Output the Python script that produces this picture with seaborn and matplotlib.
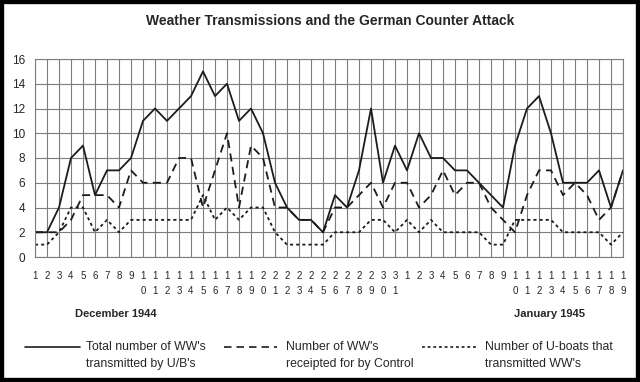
import numpy as np
import pandas as pd
import seaborn as sns
import matplotlib.pyplot as plt
from matplotlib.lines import Line2D
from matplotlib.patches import Rectangle

# Days: December 1944 then January 1945
dec_days = list(range(1, 32))
jan_days = list(range(1, 20))
days = dec_days + jan_days

# Values
total_ww = [2, 2, 4, 8, 9, 5, 7, 7, 8, 11, 12, 11, 12, 13, 15, 13, 14, 11, 12, 10,
            6, 4, 3, 3, 2, 5, 4, 7, 12, 6, 9,
            7, 10, 8, 8, 7, 7, 6, 5, 4, 9, 12, 13, 10, 6, 6, 6, 7, 4, 7]
receipted = [2, 2, 2, 3, 5, 5, 5, 4, 7, 6, 6, 6, 8, 8, 4, 7, 10, 4, 9, 8,
             4, 4, 3, 3, 2, 4, 4, 5, 6, 4, 6,
             6, 4, 5, 7, 5, 6, 6, 4, 3, 2, 5, 7, 7, 5, 6, 5, 3, 4, 7]
uboats = [1, 1, 2, 4, 4, 2, 3, 2, 3, 3, 3, 3, 3, 3, 5, 3, 4, 3, 4, 4,
          2, 1, 1, 1, 1, 2, 2, 2, 3, 3, 2,
          3, 2, 3, 2, 2, 2, 2, 1, 1, 3, 3, 3, 3, 2, 2, 2, 2, 1, 2]

series_names = ["Total number of WW's\ntransmitted by U/B's",
                "Number of WW's\nreceipted for by Control",
                "Number of U-boats that\ntransmitted WW's"]
month_labels = ["December 1944", "January 1945"]
title = "Weather Transmissions and the German Counter Attack"

sns.set_style("white")
plt.rcParams['font.family'] = ['Liberation Sans', 'DejaVu Sans']

line_color = '#1c1c1c'
grid_color = '#7d7d7d'
dash_styles = {series_names[0]: '', series_names[1]: (4.5, 3), series_names[2]: (1.7, 1.7)}

df = pd.DataFrame({
    'pos': np.tile(np.arange(len(days)), 3),
    'value': total_ww + receipted + uboats,
    'series': np.repeat(series_names, len(days)),
})

fig = plt.figure(figsize=(6.4, 3.82), dpi=100)
ax = fig.add_axes([35 / 640, 1 - 257 / 382, 588 / 640, 198 / 382])

sns.lineplot(data=df, x='pos', y='value', style='series', dashes=dash_styles,
             color=line_color, linewidth=1.3, ax=ax, legend=False)

ax.set_xlim(0, len(days) - 1)
ax.set_ylim(0, 16)
ax.set_xticks(range(len(days)))
ax.set_xticklabels(['\n'.join(str(d)) for d in days], fontsize=7, linespacing=1.6)
ax.set_yticks(range(0, 17, 2))
ax.set_yticklabels([str(v) for v in range(0, 17, 2)], fontsize=8.5)
ax.set_xlabel('')
ax.set_ylabel('')
ax.grid(True, color=grid_color, lw=0.8)
ax.tick_params(axis='both', length=3, width=0.8, color=grid_color, direction='out')
ax.tick_params(axis='x', pad=7)
ax.tick_params(axis='y', pad=4)
for sp in ax.spines.values():
    sp.set_color(grid_color)
    sp.set_linewidth(0.8)

# month labels under the day numbers
fig.text(116 / 640, 1 - 314 / 382, month_labels[0], ha='center', va='center',
         fontsize=8, weight='bold')
fig.text(549 / 640, 1 - 314 / 382, month_labels[1], ha='center', va='center',
         fontsize=8, weight='bold')

fig.text(330 / 640, 1 - 21 / 382, title, ha='center', va='center',
         fontsize=10, weight='bold')

# legend drawn by hand: handle level with the first text line
legend_x = [(25, 80, 86), (224, 277, 286), (422, 478, 485)]
for name, (x0, x1, xt) in zip(series_names, legend_x):
    h = Line2D([x0 / 640, x1 / 640], [1 - 347 / 382] * 2, color=line_color, lw=1.2,
               transform=fig.transFigure)
    if dash_styles[name]:
        h.set_dashes(dash_styles[name])
    fig.add_artist(h)
    for k, part in enumerate(name.split('\n')):
        fig.text(xt / 640, 1 - (347 + 17 * k) / 382, part, ha='left', va='center',
                 fontsize=8.8)

fig.patches.append(Rectangle((0, 0), 1, 1, transform=fig.transFigure, fill=False,
                             lw=6, ec='black'))

fig.savefig('out.png', dpi=100)
